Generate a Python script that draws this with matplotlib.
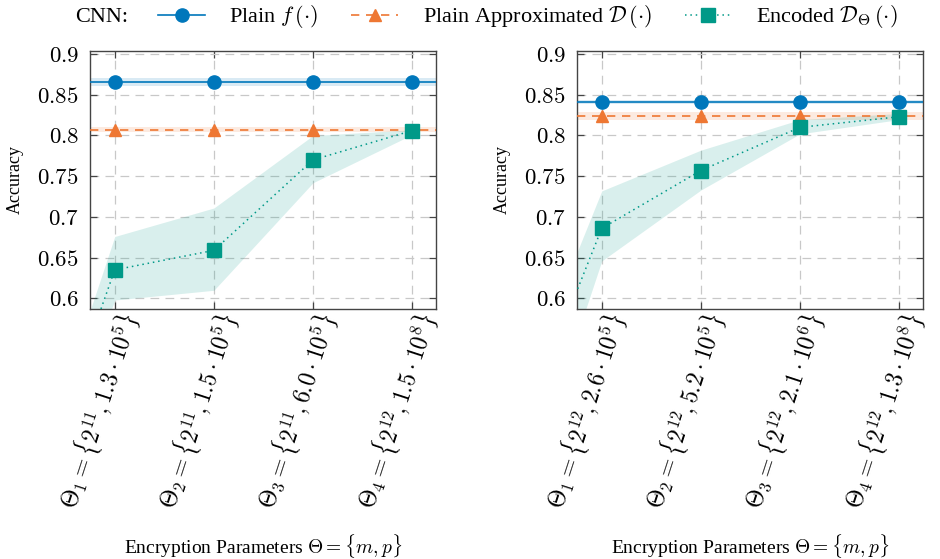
import numpy as np
import matplotlib
matplotlib.use('Agg')
import matplotlib.pyplot as plt
from matplotlib.lines import Line2D
from matplotlib.ticker import FuncFormatter
from matplotlib.transforms import ScaledTranslation

plt.rc('font', family='Liberation Serif')
plt.rc('mathtext', fontset='cm')

# ------------------------------------------------------------
# Accuracy per encryption parameter set (left: first run, right: second run)
# enc_* series start at x=0 (before Theta_1)
# ------------------------------------------------------------
theta_x = [1, 2, 3, 4]
enc_x = [0, 1, 2, 3, 4]

left_ticks = [r'$\mathit{\Theta_1 = \{2^{11}, 1.3 \cdot 10^5\}}$',
              r'$\mathit{\Theta_2 = \{2^{11}, 1.5 \cdot 10^5\}}$',
              r'$\mathit{\Theta_3 = \{2^{11}, 6.0 \cdot 10^5\}}$',
              r'$\mathit{\Theta_4 = \{2^{12}, 1.5 \cdot 10^8\}}$']
right_ticks = [r'$\mathit{\Theta_1 = \{2^{12}, 2.6 \cdot 10^5\}}$',
               r'$\mathit{\Theta_2 = \{2^{12}, 5.2 \cdot 10^5\}}$',
               r'$\mathit{\Theta_3 = \{2^{12}, 2.1 \cdot 10^6\}}$',
               r'$\mathit{\Theta_4 = \{2^{12}, 1.3 \cdot 10^8\}}$']

left_plain, left_plain_sd = 0.866, 0.005
left_approx, left_approx_sd = 0.807, 0.003
left_enc = [0.29, 0.635, 0.659, 0.770, 0.806]
left_enc_lo = [0.26, 0.598, 0.610, 0.742, 0.801]
left_enc_hi = [0.31, 0.676, 0.711, 0.800, 0.807]

right_plain, right_plain_sd = 0.841, 0.002
right_approx, right_approx_sd = 0.824, 0.005
right_enc = [0.38, 0.686, 0.757, 0.810, 0.823]
right_enc_lo = [0.28, 0.646, 0.733, 0.802, 0.8195]
right_enc_hi = [0.43, 0.732, 0.782, 0.8195, 0.827]

BLUE = '#0077BB'
ORANGE = '#EE7733'
TEAL = '#009988'
AXIS = '#444444'


def draw_panel(ax, plain, plain_sd, approx, approx_sd, enc, enc_lo, enc_hi, ticks):
    # spread bands
    ax.axhspan(plain - plain_sd, plain + plain_sd, color=BLUE, alpha=0.15, lw=0, zorder=1)
    ax.axhspan(approx - approx_sd, approx + approx_sd, color=ORANGE, alpha=0.15, lw=0, zorder=1)
    ax.fill_between(enc_x, enc_lo, enc_hi, color=TEAL, alpha=0.15, lw=0, zorder=1)

    # mean lines
    ax.axhline(plain, color=BLUE, lw=1.2, zorder=3)
    ax.plot(theta_x, [plain] * len(theta_x), 'o', color=BLUE, ms=9.5, zorder=4)
    ax.axhline(approx, color=ORANGE, lw=1.2, ls=(0, (5, 4)), zorder=3)
    ax.plot(theta_x, [approx] * len(theta_x), '^', color=ORANGE, ms=9, zorder=4)
    ax.plot(enc_x, enc, color=TEAL, lw=1.1, ls=(0, (1, 2.5)), marker='s', ms=9.5,
            markevery=list(range(1, len(enc_x))), zorder=5)

    ax.set_xlim(0.75, 4.24)
    ax.set_ylim(0.587, 0.9037)
    ax.set_yticks([0.6, 0.65, 0.7, 0.75, 0.8, 0.85, 0.9])
    ax.yaxis.set_major_formatter(FuncFormatter(lambda v, p: f'${v:g}$'))
    ax.set_xticks(theta_x)
    ax.set_xticklabels(ticks, rotation=72, ha='right', va='top',
                       rotation_mode='anchor', fontsize=17)
    # shift rotated labels so their ends sit right of the ticks
    shift = ScaledTranslation(0.29, -0.08, fig.dpi_scale_trans)
    for lab in ax.get_xticklabels():
        lab.set_transform(lab.get_transform() + shift)
    ax.tick_params(axis='y', labelsize=16.5, pad=8)
    ax.tick_params(axis='x', pad=0)
    ax.tick_params(direction='in', top=True, right=True, length=5,
                   width=0.9, color=AXIS)
    ax.grid(True, ls=(0, (7, 5)), color='#C8C8C8', lw=0.9)
    ax.set_axisbelow(True)
    for s in ax.spines.values():
        s.set_color(AXIS)
        s.set_linewidth(1.0)
    ax.set_ylabel('Accuracy', fontsize=13)
    ax.yaxis.set_label_coords(-0.19, 0.5)
    ax.set_xlabel(r'Encryption Parameters $\Theta = \{m, p\}$', fontsize=14)
    ax.xaxis.set_label_coords(0.5, -0.865)


fig = plt.figure(figsize=(9.4, 5.59), dpi=100)
ax1 = fig.add_axes([0.0957, 0.4472, 0.3681, 0.4616])
ax2 = fig.add_axes([0.6138, 0.4472, 0.3681, 0.4616])

draw_panel(ax1, left_plain, left_plain_sd, left_approx, left_approx_sd,
           left_enc, left_enc_lo, left_enc_hi, left_ticks)
draw_panel(ax2, right_plain, right_plain_sd, right_approx, right_approx_sd,
           right_enc, right_enc_lo, right_enc_hi, right_ticks)

# shared legend across the top
handles = [Line2D([], [], color=BLUE, lw=1.2, marker='o', ms=9.5),
           Line2D([], [], color=ORANGE, lw=1.2, ls=(0, (5, 4)), marker='^', ms=9),
           Line2D([], [], color=TEAL, lw=1.1, ls=(0, (1, 2.5)), marker='s', ms=9.5)]
labels = [r'Plain $f\,(\cdot)$',
          r'Plain Approximated $\mathcal{D}\,(\cdot)$',
          r'Encoded $\mathcal{D}_\Theta\,(\cdot)$']
fig.text(75 / 940, 1 - 17 / 559, 'CNN:', fontsize=16, va='center', ha='left')
fig.legend(handles, labels, loc='center', bbox_to_anchor=(528 / 940, 1 - 17 / 559),
           ncol=3, frameon=False, fontsize=16, handlelength=2.1,
           handletextpad=1.1, columnspacing=1.5)

fig.savefig('out.png', dpi=100)
